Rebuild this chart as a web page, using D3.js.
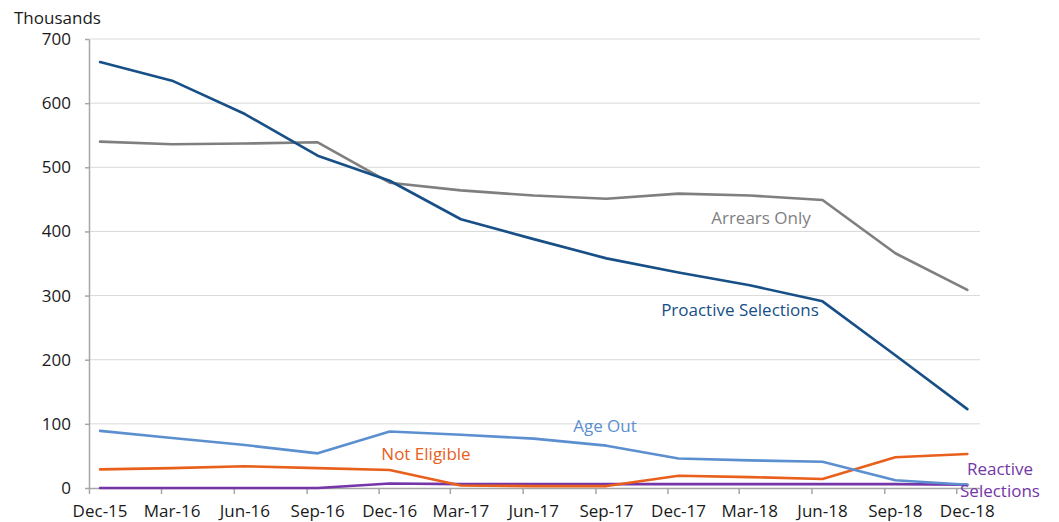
<!DOCTYPE html>
<html>
<head>
<meta charset="utf-8">
<script src="https://cdn.jsdelivr.net/npm/d3@7"></script>
<style>
  html, body { margin: 0; padding: 0; background: #fff; }
  svg { display: block; font-family: "Open Sans", sans-serif; }
</style>
</head>
<body>
<svg id="chart" width="1059" height="522"></svg>
<script>
// Quarter-end periods shown on the x axis
const categories = ["Dec-15","Mar-16","Jun-16","Sep-16","Dec-16","Mar-17","Jun-17",
                    "Sep-17","Dec-17","Mar-18","Jun-18","Sep-18","Dec-18"];

// Values in thousands
const proactiveSelections = [664, 635, 583, 518, 479, 419, 388, 358, 336, 316, 291, 207, 123];
const arrearsOnly         = [540, 536, 537, 539, 476, 464, 456, 451, 459, 456, 449, 366, 309];
const ageOut              = [89, 78, 67, 54, 88, 83, 77, 66, 46, 43, 41, 12, 5];
const notEligible         = [29, 31, 34, 31, 28, 4, 3, 3, 19, 17, 14, 48, 53];
const reactiveSelections  = [0, 0, 0, 0, 7, 6, 6, 6, 6, 6, 6, 6, 5];

const yTicks = [0, 100, 200, 300, 400, 500, 600, 700];

const series = [
  { name: "Proactive Selections", values: proactiveSelections, color: "#174f86",
    label: ["Proactive Selections"], lx: 740, ly: 311 },
  { name: "Arrears Only", values: arrearsOnly, color: "#7f7f7f",
    label: ["Arrears Only"], lx: 761, ly: 219 },
  { name: "Age Out", values: ageOut, color: "#5b8fd0",
    label: ["Age Out"], lx: 605, ly: 427 },
  { name: "Not Eligible", values: notEligible, color: "#e8601c",
    label: ["Not Eligible"], lx: 426, ly: 455 },
  { name: "Reactive Selections", values: reactiveSelections, color: "#7436a8",
    label: ["Reactive", "Selections"], lx: 1000, ly: 470 }
];

const svg = d3.select("#chart");
const margin = { left: 89, right: 79, top: 39, bottom: 34 };
const W = 1059, H = 522;

const parse = d3.timeParse("%b-%y");
const tickDates = categories.map(parse);
const pointDates = tickDates.map(d => d3.timeDay.offset(d, 14));

const x = d3.scaleTime()
  .domain([tickDates[0], new Date(2018, 11, 31)])
  .range([margin.left, W - margin.right]);

const y = d3.scaleLinear()
  .domain([0, 700])
  .range([H - margin.bottom, margin.top]);

// Horizontal gridlines
svg.append("g")
  .selectAll("line")
  .data(yTicks.filter(v => v > 0))
  .join("line")
  .attr("x1", margin.left)
  .attr("x2", W - margin.right)
  .attr("y1", d => y(d))
  .attr("y2", d => y(d))
  .attr("stroke", "#d9d9d9")
  .attr("stroke-width", 1);

// Y axis
const yAxis = svg.append("g")
  .attr("transform", `translate(${margin.left},0)`)
  .call(d3.axisLeft(y).tickValues(yTicks).tickSize(4).tickPadding(14).tickSizeOuter(0));
yAxis.select(".domain").attr("stroke", "#a6a6a6").attr("stroke-width", 1.5);
yAxis.selectAll(".tick line").attr("stroke", "#a6a6a6").attr("stroke-width", 1.5);
yAxis.selectAll(".tick text")
  .attr("font-family", "Open Sans, sans-serif")
  .attr("font-size", 17)
  .attr("fill", "#1a1a1a");

// X axis: tick marks at the start of each quarter month, labels under the points
const xAxis = svg.append("g")
  .attr("transform", `translate(0,${y(0)})`)
  .call(d3.axisBottom(x).tickValues(tickDates).tickSize(6).tickFormat(() => "").tickSizeOuter(0));
xAxis.select(".domain").attr("stroke", "#a6a6a6").attr("stroke-width", 1.5);
xAxis.selectAll(".tick line").attr("stroke", "#a6a6a6").attr("stroke-width", 1.5);

svg.append("g")
  .selectAll("text")
  .data(categories)
  .join("text")
  .attr("x", (d, i) => x(pointDates[i]))
  .attr("y", 517)
  .attr("text-anchor", "middle")
  .attr("font-size", 17)
  .attr("fill", "#1a1a1a")
  .text(d => d);

// Axis unit title
svg.append("text")
  .attr("x", 14)
  .attr("y", 24)
  .attr("font-size", 17)
  .attr("fill", "#1a1a1a")
  .text("Thousands");

// Series lines
const line = d3.line()
  .x((d, i) => x(pointDates[i]))
  .y(d => y(d));

const drawOrder = ["Reactive Selections", "Not Eligible", "Age Out", "Arrears Only", "Proactive Selections"];
const ordered = drawOrder.map(n => series.find(s => s.name === n));

svg.append("g")
  .selectAll("path")
  .data(ordered)
  .join("path")
  .attr("d", s => line(s.values))
  .attr("fill", "none")
  .attr("stroke", s => s.color)
  .attr("stroke-width", 2.6)
  .attr("stroke-linejoin", "round")
  .attr("stroke-linecap", "round");

// Series labels
const labels = svg.append("g");
series.forEach(s => {
  const t = labels.append("text")
    .attr("x", s.lx)
    .attr("y", s.ly)
    .attr("text-anchor", "middle")
    .attr("dominant-baseline", "middle")
    .attr("font-size", 17)
    .attr("fill", s.color);
  s.label.forEach((l, i) => {
    t.append("tspan")
      .attr("x", s.lx)
      .attr("dy", i === 0 ? 0 : 22)
      .text(l);
  });
});
</script>
</body>
</html>
